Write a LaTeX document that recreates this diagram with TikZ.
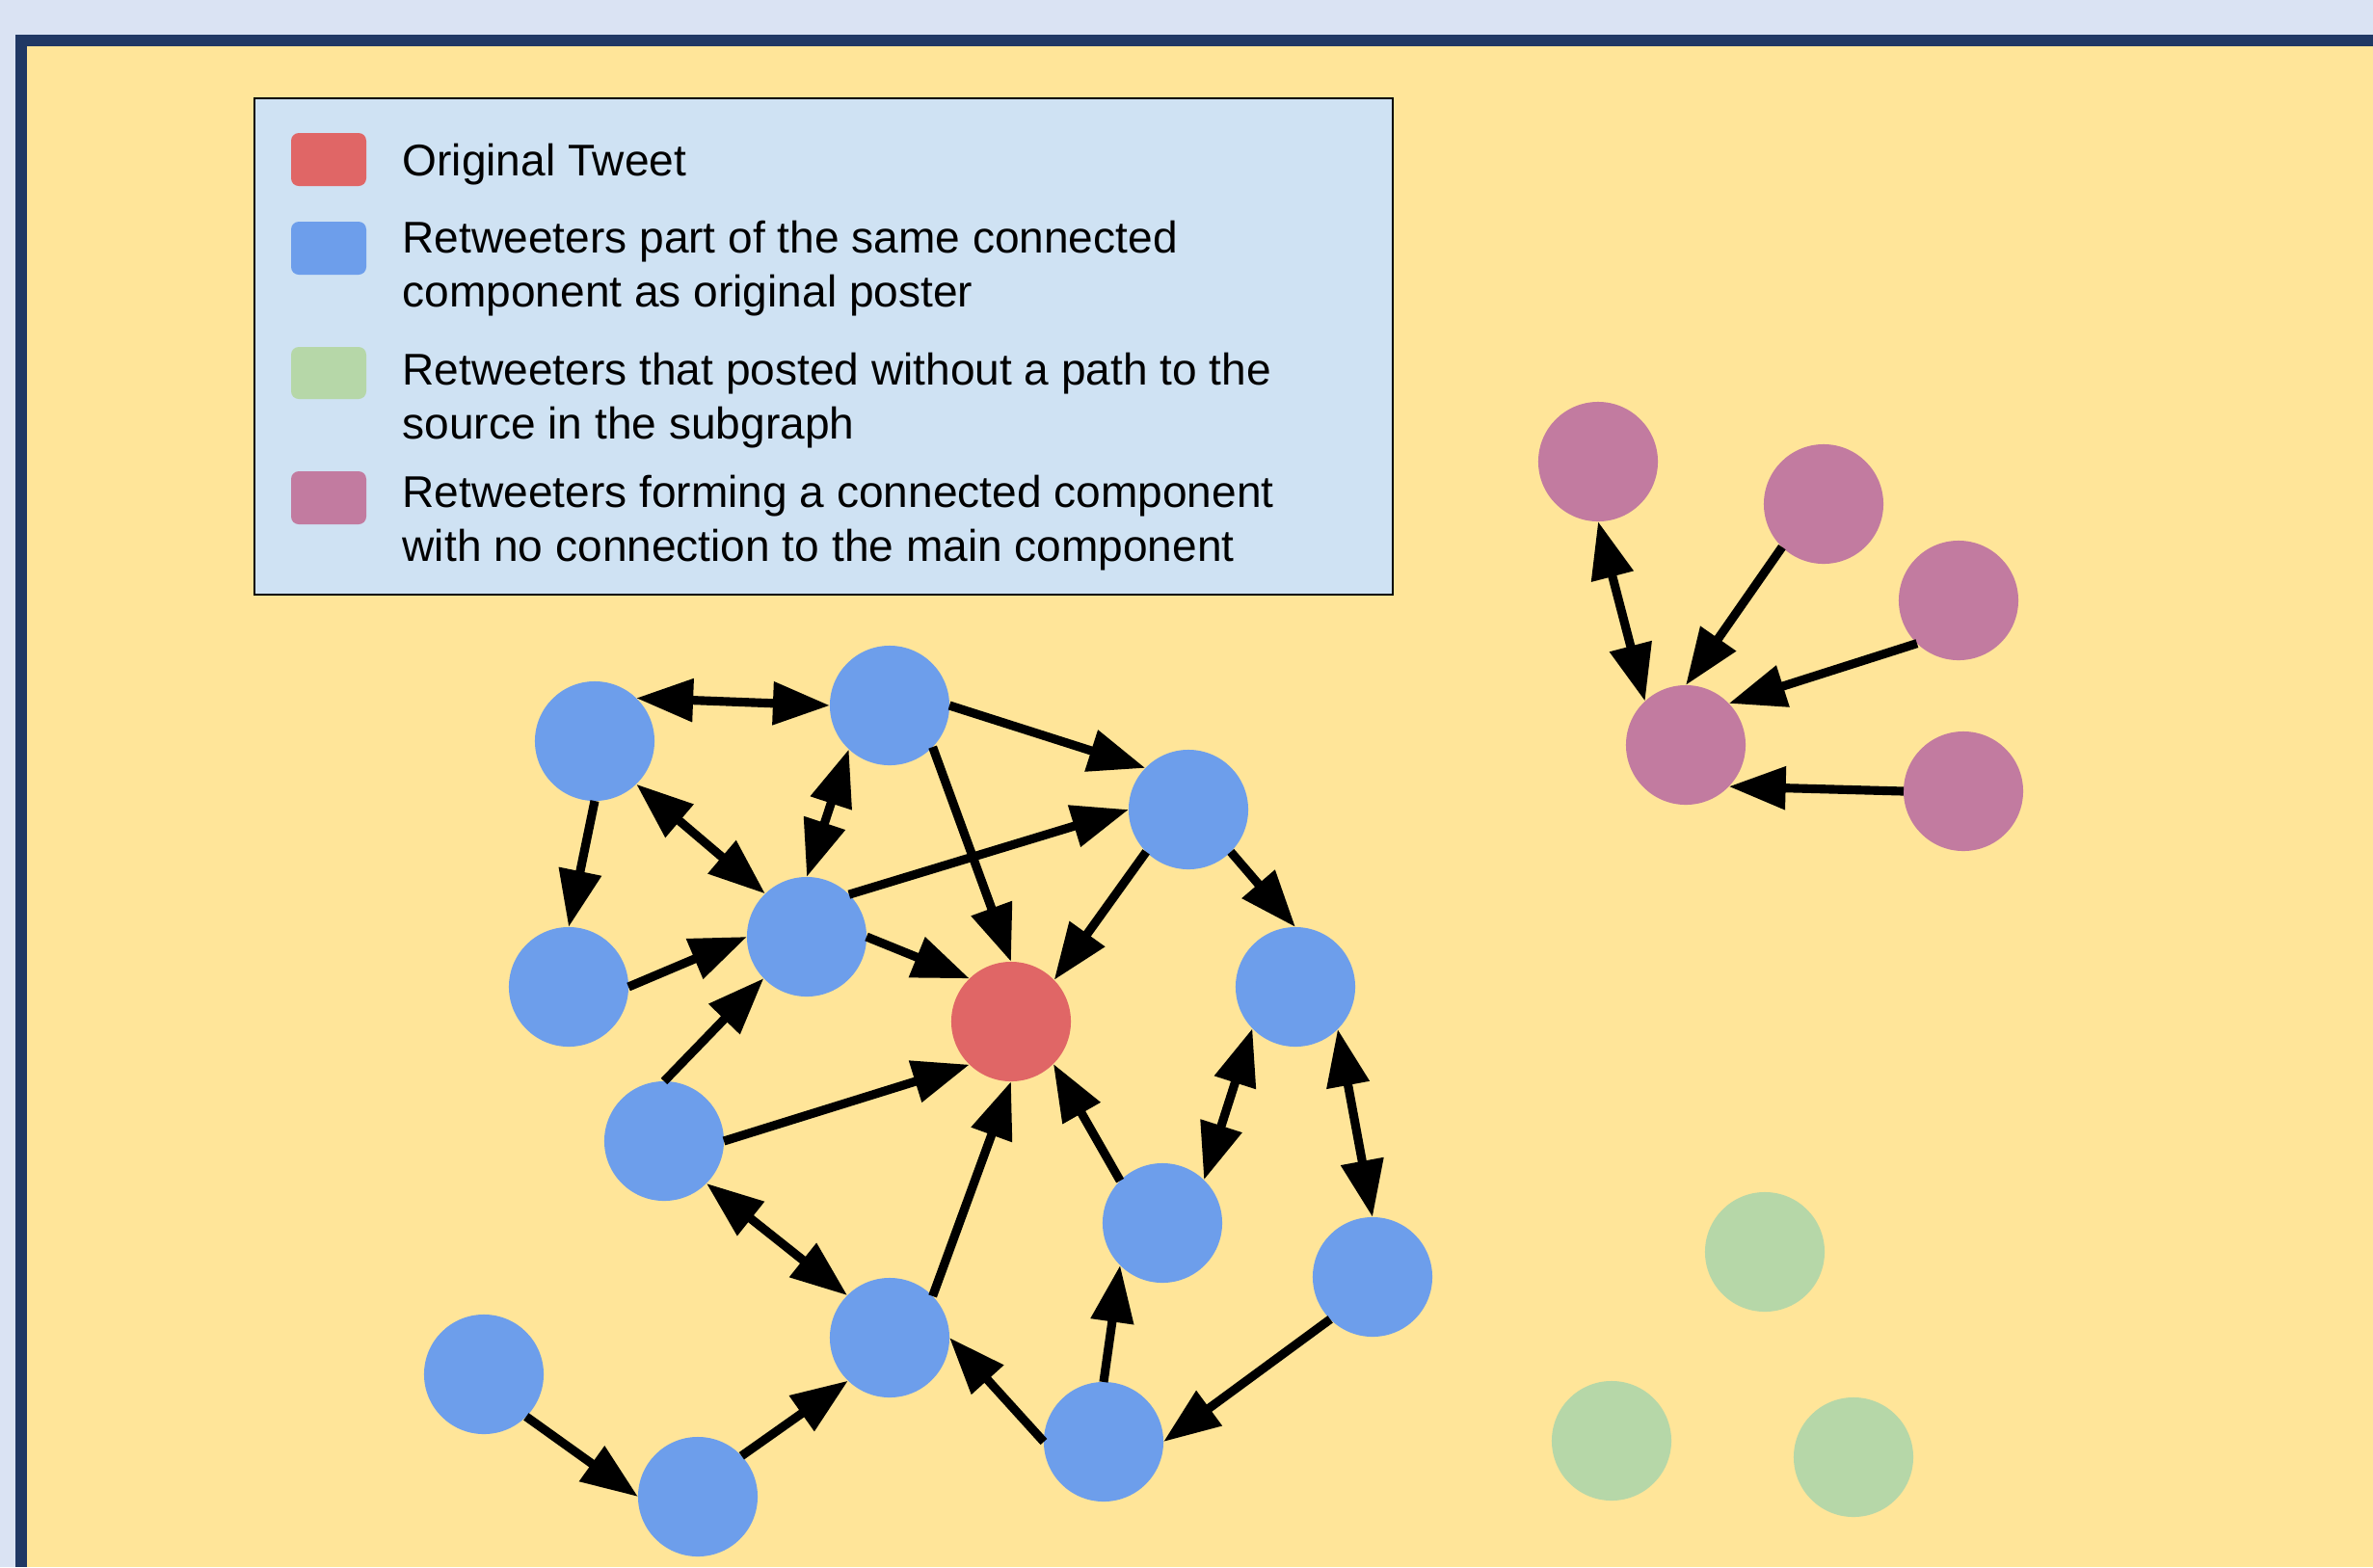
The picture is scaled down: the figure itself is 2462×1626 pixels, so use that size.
\documentclass[tikz,border=0pt]{standalone}
\usepackage{fontspec}
\setmainfont{Liberation Sans}
\usetikzlibrary{arrows.meta, positioning, calc}

\definecolor{pagebg}{HTML}{DAE3F3}
\definecolor{framenavy}{HTML}{203864}
\definecolor{paper}{HTML}{FFE599}
\definecolor{legendbg}{HTML}{CFE2F3}
\definecolor{tweetred}{HTML}{E06666}
\definecolor{mainblue}{HTML}{6D9EEB}
\definecolor{loosegreen}{HTML}{B6D7A8}
\definecolor{islandpink}{HTML}{C27BA0}

\begin{document}
\begin{tikzpicture}[x=0.01cm, y=-0.01cm,
    user/.style={circle, minimum size=1.24cm, inner sep=0pt, outer sep=0pt},
    swatch/.style={rounded corners=0.8mm},
    legtext/.style={anchor=base west, align=left, inner sep=0pt, font=\fontsize{13.1pt}{15.65pt}\selectfont},
    tie/.style={line width=2.6pt, -{Triangle[length=5.9mm, width=4.3mm]}},
    mutual/.style={line width=2.6pt, {Triangle[length=5.9mm, width=4.3mm]}-{Triangle[length=5.9mm, width=4.3mm]}}]

    \useasboundingbox (0,0) rectangle (2462,1626);

    % Page and frame
    \fill[pagebg] (0,0) rectangle (2462,1626);
    \fill[framenavy] (16,36) rectangle (2462,1626);
    \fill[paper] (28,48) rectangle (2462,1626);

    % Legend (multi-line entries sit on their last baseline)
    \draw[fill=legendbg, line width=0.6pt] (264,102) rectangle (1445,617);
    \fill[tweetred, swatch] (302,138) rectangle (380,193);
    \fill[mainblue, swatch] (302,230) rectangle (380,285);
    \fill[loosegreen, swatch] (302,360) rectangle (380,414);
    \fill[islandpink, swatch] (302,489) rectangle (380,544);
    \node[legtext] (legtweet) at (417,182) {Original Tweet};
    \node[legtext] (legmain) at (417,318) {Retweeters part of the same connected\\component as original poster};
    \node[legtext] (legloose) at (417,455) {Retweeters that posted without a path to the\\source in the subgraph};
    \node[legtext] (legisland) at (417,582) {Retweeters forming a connected component\\with no connection to the main component};

    % Original tweet
    \node[user, fill=tweetred] (src) at (1049,1060) {};

    % Main component
    \node[user, fill=mainblue] (a) at (617,769) {};
    \node[user, fill=mainblue] (b) at (923,732) {};
    \node[user, fill=mainblue] (c) at (1233,840) {};
    \node[user, fill=mainblue] (d) at (590,1024) {};
    \node[user, fill=mainblue] (e) at (837,972) {};
    \node[user, fill=mainblue] (f) at (1344,1024) {};
    \node[user, fill=mainblue] (g) at (689,1184) {};
    \node[user, fill=mainblue] (h) at (1206,1269) {};
    \node[user, fill=mainblue] (i) at (1424,1325) {};
    \node[user, fill=mainblue] (j) at (923,1388) {};
    \node[user, fill=mainblue] (k) at (502,1426) {};
    \node[user, fill=mainblue] (l) at (724,1553) {};
    \node[user, fill=mainblue] (m) at (1145,1496) {};

    \draw[mutual] (a.46) -- (b.west);
    \draw[tie] (b.east) -- (c.136);
    \draw[tie] (a.south) -- (d.north);
    \draw[mutual] (a.-46) -- (e.134);
    \draw[mutual] (b.227) -- (e.north);
    \draw[tie] (b.-44) -- (src.north);
    \draw[tie] (e.45) -- (c.west);
    \draw[tie] (d.east) -- (e.west);
    \draw[tie] (e.east) -- (src.134);
    \draw[tie] (c.225) -- (src.44);
    \draw[tie] (c.-45) -- (f.north);
    \draw[tie] (g.north) -- (e.224);
    \draw[tie] (g.east) -- (src.226);
    \draw[mutual] (g.-45) -- (j.135);
    \draw[tie] (j.44) -- (src.south);
    \draw[tie] (h.135) -- (src.-45);
    \draw[mutual] (f.224) -- (h.46);
    \draw[mutual] (f.-45) -- (i.north);
    \draw[tie] (m.north) -- (h.225);
    \draw[tie] (m.west) -- (j.east);
    \draw[tie] (i.225) -- (m.east);
    \draw[tie] (k.-45) -- (l.west);
    \draw[tie] (l.43) -- (j.226);

    % Separate component
    \node[user, fill=islandpink] (p1) at (1658,479) {};
    \node[user, fill=islandpink] (p2) at (1892,523) {};
    \node[user, fill=islandpink] (p3) at (2032,623) {};
    \node[user, fill=islandpink] (hub) at (1749,773) {};
    \node[user, fill=islandpink] (p5) at (2037,821) {};

    \draw[mutual] (p1.south) -- (hub.133);
    \draw[tie] (p2.226) -- (hub.north);
    \draw[tie] (p3.226) -- (hub.44);
    \draw[tie] (p5.west) -- (hub.-44);

    % No path to the source
    \node[user, fill=loosegreen] (q1) at (1831,1299) {};
    \node[user, fill=loosegreen] (q2) at (1672,1495) {};
    \node[user, fill=loosegreen] (q3) at (1923,1512) {};

\end{tikzpicture}
\end{document}
